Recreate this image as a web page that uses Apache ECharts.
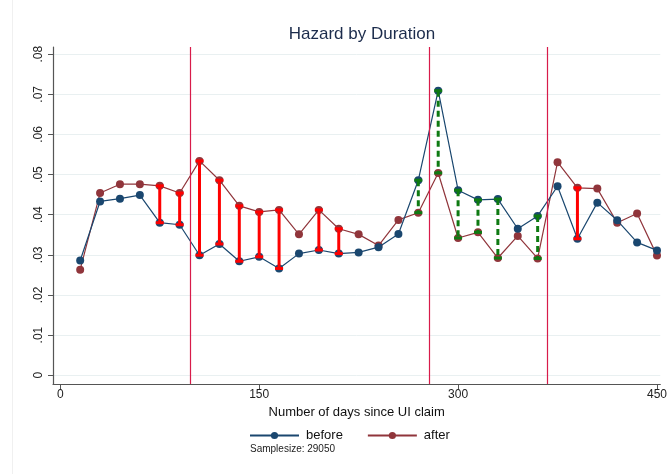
<!DOCTYPE html>
<html>
<head>
<meta charset="utf-8">
<script src="https://cdn.jsdelivr.net/npm/echarts@6/dist/echarts.min.js"></script>
<style>
  html, body { margin: 0; padding: 0; background: #ffffff; }
  #chart { width: 670px; height: 474px; }
</style>
</head>
<body>
<div id="chart"></div>
<script>
// Days since UI claim (15-day bins)
const days = [15, 30, 45, 60, 75, 90, 105, 120, 135, 150, 165, 180, 195, 210, 225,
              240, 255, 270, 285, 300, 315, 330, 345, 360, 375, 390, 405, 420, 435, 450];
// Hazard rate before the reform
const before = [0.0286, 0.0433, 0.0440, 0.0449, 0.0380, 0.0375, 0.0299, 0.0327, 0.0284, 0.0295,
                0.0266, 0.0303, 0.0312, 0.0303, 0.0306, 0.0319, 0.0352, 0.0486, 0.0709, 0.0461,
                0.0437, 0.0439, 0.0365, 0.0397, 0.0471, 0.0340, 0.0430, 0.0386, 0.0331, 0.0311];
// Hazard rate after the reform
const after = [0.0263, 0.0454, 0.0476, 0.0476, 0.0472, 0.0454, 0.0534, 0.0486, 0.0422, 0.0407,
               0.0412, 0.0351, 0.0412, 0.0365, 0.0351, 0.0323, 0.0387, 0.0405, 0.0504, 0.0342,
               0.0356, 0.0292, 0.0347, 0.0291, 0.0531, 0.0467, 0.0465, 0.0380, 0.0403, 0.0298];
// Bins with a significant increase / decrease
const upDays = [75, 90, 105, 120, 135, 150, 165, 195, 210, 390];
const downDays = [270, 285, 300, 315, 330, 360];
// Benefit duration cut-offs
const cutoffs = [98, 278, 367];
const xTicks = [0, 150, 300, 450];
const yTicks = [0, 0.01, 0.02, 0.03, 0.04, 0.05, 0.06, 0.07, 0.08];
const sampleSize = 29050;

const pairs = (arr) => days.map((d, i) => [d, arr[i]]);
const rangeData = (list) => list.map(d => {
  const i = days.indexOf(d);
  return [d, before[i], after[i]];
});

function rangeRenderer(color, dash) {
  return function (params, api) {
    const p1 = api.coord([api.value(0), api.value(1)]);
    const p2 = api.coord([api.value(0), api.value(2)]);
    const cw = 4;
    const style = { stroke: color, lineWidth: 3, lineDash: dash };
    return {
      type: 'group',
      children: [
        { type: 'line', shape: { x1: p1[0], y1: p1[1], x2: p2[0], y2: p2[1] }, style: style },
        { type: 'line', shape: { x1: p1[0] - cw, y1: p1[1], x2: p1[0] + cw, y2: p1[1] },
          style: { stroke: color, lineWidth: 3 } },
        { type: 'line', shape: { x1: p2[0] - cw, y1: p2[1], x2: p2[0] + cw, y2: p2[1] },
          style: { stroke: color, lineWidth: 3 } }
      ]
    };
  };
}

const chart = echarts.init(document.getElementById('chart'), null, { renderer: 'canvas' });
const font = '"Liberation Sans", Arial, sans-serif';

chart.setOption({
  animation: false,
  backgroundColor: '#ffffff',
  textStyle: { fontFamily: font },
  title: [
    {
      text: 'Hazard by Duration',
      left: 357, top: 21, textAlign: 'center',
      textStyle: { fontSize: 17, fontWeight: 'normal', color: '#1c2c4c', fontFamily: font }
    },
    {
      text: 'Samplesize: ' + sampleSize,
      left: 245, top: 439,
      textStyle: { fontSize: 10, fontWeight: 'normal', color: '#222', fontFamily: font }
    }
  ],
  graphic: [
    { type: 'line', shape: { x1: 12.5, y1: 0, x2: 12.5, y2: 474 },
      style: { stroke: '#f0f0f0', lineWidth: 1 }, silent: true }
  ],
  legend: {
    data: ['before', 'after'],
    left: 244, top: 424,
    itemWidth: 49, itemHeight: 9, itemGap: 24,
    textStyle: { fontSize: 13, color: '#111', fontFamily: font, padding: [0, 0, 0, 2] }
  },
  grid: { left: 53, top: 47, width: 609, height: 337, containLabel: false },
  xAxis: {
    type: 'value',
    min: -5.5, max: 452.5,
    name: 'Number of days since UI claim',
    nameLocation: 'middle', nameGap: 21,
    nameTextStyle: { fontSize: 13, color: '#111', fontFamily: font },
    axisLine: { onZero: false, lineStyle: { color: '#555', width: 1.2 } },
    axisTick: { show: true, length: 5, lineStyle: { color: '#555' }, customValues: xTicks },
    axisLabel: { fontSize: 12, color: '#222', margin: 5, customValues: xTicks, fontFamily: font },
    splitLine: { show: false }
  },
  yAxis: {
    type: 'value',
    min: -0.0022, max: 0.0818,
    axisLine: { show: true, onZero: false, lineStyle: { color: '#555', width: 1.2 } },
    axisTick: { show: true, length: 5, lineStyle: { color: '#555' }, customValues: yTicks },
    axisLabel: {
      fontSize: 12, color: '#222', rotate: 90, margin: 8, fontFamily: font,
      customValues: yTicks,
      formatter: v => (Math.abs(v) < 1e-9 ? '0' : v.toFixed(2).replace(/^0/, ''))
    },
    splitLine: { show: true, lineStyle: { color: '#e9f0f1', width: 1 } }
  },
  series: [
    {
      name: 'before', type: 'line', data: pairs(before),
      symbol: 'circle', symbolSize: 8,
      itemStyle: { color: '#1a476f' },
      lineStyle: { color: '#1a476f', width: 1.2 },
      z: 3,
      markLine: {
        silent: true, symbol: 'none',
        label: { show: false },
        lineStyle: { color: '#d81b4a', width: 1.2, type: 'solid', opacity: 1 },
        emphasis: { disabled: true },
        data: cutoffs.map(c => ({ xAxis: c }))
      }
    },
    {
      name: 'after', type: 'line', data: pairs(after),
      symbol: 'circle', symbolSize: 8,
      itemStyle: { color: '#90353b' },
      lineStyle: { color: '#90353b', width: 1.2 },
      z: 2
    },
    {
      name: 'increase', type: 'custom', data: rangeData(upDays),
      renderItem: rangeRenderer('#ff0000', null), z: 5
    },
    {
      name: 'decrease', type: 'custom', data: rangeData(downDays),
      renderItem: rangeRenderer('#0e7a12', [6, 4]), z: 5
    }
  ]
});
</script>
</body>
</html>
